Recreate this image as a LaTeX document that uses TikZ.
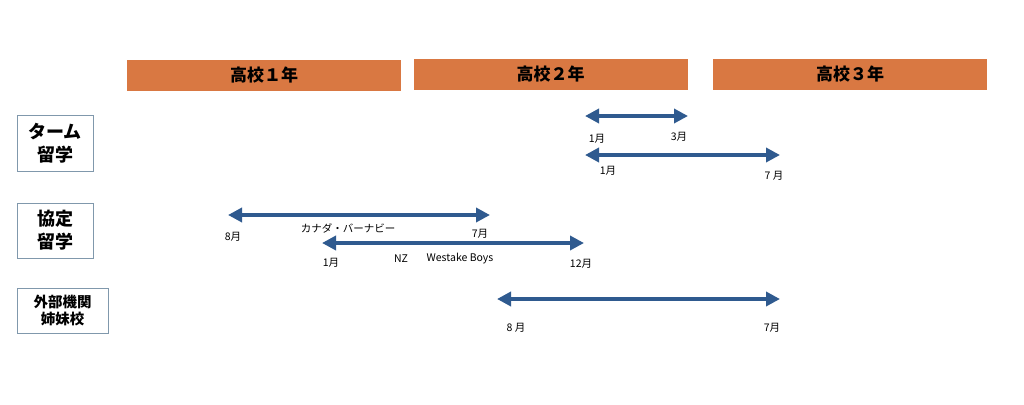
\documentclass[tikz,border=0pt]{standalone}
\usepackage{fontspec}
\setmainfont{Noto Sans CJK JP}
\usetikzlibrary{arrows.meta}

\definecolor{yearorange}{RGB}{217,120,66}
\definecolor{spanblue}{RGB}{47,90,143}
\definecolor{kindframe}{RGB}{128,152,172}

\tikzset{
  year/.style={fill=yearorange, minimum width=274pt, minimum height=31pt, inner sep=0pt,
               font=\fontsize{17}{17}\selectfont\bfseries},
  kind/.style={draw=kindframe, line width=0.9pt, align=center, inner sep=0pt,
               font=\fontsize{18}{23}\selectfont\bfseries},
  span/.style={spanblue, line width=4.5pt,
               {Triangle[length=14pt,width=14pt]}-{Triangle[length=14pt,width=14pt]}},
  month/.style={inner sep=0pt, font=\fontsize{10.5}{10.5}\selectfont}
}

\begin{document}
\begin{tikzpicture}[x=1pt,y=-1pt]
\useasboundingbox (0,0) rectangle (1024,404);

% years
\node[year] (y1) at (264,75) {高校１年};
\node[year] (y2) at (550.5,74) {高校２年};
\node[year] (y3) at (850,74) {高校３年};

% kinds of study abroad
\node[kind, minimum width=76pt, minimum height=56pt] (term) at (55,143) {ターム\\留学};
\node[kind, minimum width=76pt, minimum height=55pt] (pact) at (55,230.5) {協定\\留学};
\node[kind, minimum width=91pt, minimum height=45pt,
      font=\fontsize{14.5}{17}\selectfont\bfseries] (ext) at (62.5,310.5) {外部機関\\姉妹校};

% ends of the arrows
\coordinate (t1a) at (585,116);  \coordinate (t1b) at (688,116);
\coordinate (t2a) at (585,155);  \coordinate (t2b) at (780,155);
\coordinate (p1a) at (228,215);  \coordinate (p1b) at (490,215);
\coordinate (p2a) at (322,243);  \coordinate (p2b) at (584,243);
\coordinate (e1a) at (497,299);  \coordinate (e1b) at (780,299);

\draw[span] (t1a) -- (t1b);
\draw[span] (t2a) -- (t2b);
\draw[span] (p1a) -- (p1b);
\draw[span] (p2a) -- (p2b);
\draw[span] (e1a) -- (e1b);

% months
\node[month] (t1m1) at (597,139) {1月};
\node[month] (t1m2) at (679,137) {3月};
\node[month] (t2m1) at (608,171) {1月};
\node[month] (t2m2) at (774,176) {7 月};
\node[month] (p1m1) at (233,237) {8月};
\node[month] (p1m2) at (480,234) {7月};
\node[month] (p2m1) at (331,263) {1月};
\node[month] (p2m2) at (581,264) {12月};
\node[month] (e1m1) at (516,328) {8 月};
\node[month] (e1m2) at (772,328) {7月};

% schools
\node[month] (canada) at (348,228) {カナダ・バーナビー};
\node[month] (nz) at (401,259) {NZ};
\node[month] (boys) at (460,259) {Westake Boys};
\end{tikzpicture}
\end{document}
